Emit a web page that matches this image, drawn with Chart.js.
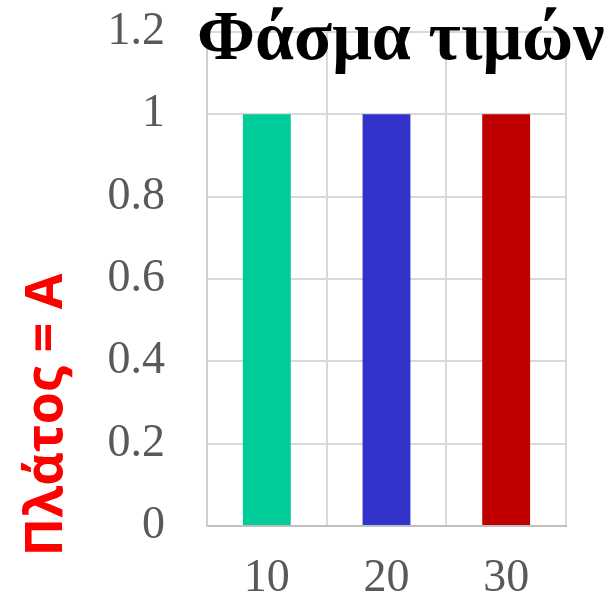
<!DOCTYPE html>
<html>
<head>
<meta charset="utf-8">
<title>Φάσμα τιμών</title>
<script src="https://cdn.jsdelivr.net/npm/chart.js@4"></script>
<style>
  html, body { margin: 0; padding: 0; background: #ffffff; }
  #wrap { width: 614px; height: 601px; }
</style>
</head>
<body>
<div id="wrap"><canvas id="chart" width="614" height="601"></canvas></div>
<script>
// Spectrum: amplitude of each frequency component
const categories = ['10', '20', '30'];
const amplitudes = [1, 1, 1];
const barColors = ['#00CC99', '#3333CC', '#C00000'];
const yTicks = [0, 0.2, 0.4, 0.6, 0.8, 1, 1.2];
const chartTitle = 'Φάσμα τιμών';
const yTitle = 'Πλάτος = A';

// Title and rotated axis caption, painted over the plot
const captions = {
  id: 'captions',
  afterDraw(chart) {
    const ctx = chart.ctx;
    ctx.save();
    ctx.fillStyle = '#000000';
    ctx.font = 'bold 70px "Liberation Serif", "Times New Roman", serif';
    ctx.textAlign = 'left';
    ctx.textBaseline = 'alphabetic';
    ctx.fillText(chartTitle, 197, 59);

    ctx.translate(62, 415);
    ctx.rotate(-Math.PI / 2);
    ctx.fillStyle = '#FF0000';
    ctx.font = 'bold 52px "Open Sans", "Liberation Sans", sans-serif';
    ctx.textAlign = 'center';
    ctx.fillText(yTitle, 0, 0);
    ctx.restore();
  }
};

const tickFont = { family: '"Liberation Serif", "Times New Roman", serif', size: 46 };

new Chart(document.getElementById('chart'), {
  type: 'bar',
  data: {
    labels: categories,
    datasets: [{
      data: amplitudes,
      backgroundColor: barColors,
      borderWidth: 0,
      categoryPercentage: 1.0,
      barPercentage: 0.4
    }]
  },
  options: {
    responsive: false,
    devicePixelRatio: 1,
    animation: false,
    layout: { padding: { top: 32, right: 48, bottom: 0, left: 0 } },
    plugins: {
      legend: { display: false },
      title: { display: false },
      tooltip: { enabled: false }
    },
    scales: {
      x: {
        offset: true,
        grid: { color: '#d9d9d9', lineWidth: 2, offset: true, drawTicks: false },
        border: { color: '#bfbfbf', width: 2 },
        ticks: { color: '#595959', padding: 25, font: tickFont },
        afterFit(scale) {
          scale.height = 75;
          scale.paddingLeft = 0;
          scale.paddingRight = 0;
        }
      },
      y: {
        min: 0,
        max: 1.2,
        afterBuildTicks(scale) { scale.ticks = yTicks.map(v => ({ value: v })); },
        grid: { color: '#d9d9d9', lineWidth: 2, drawTicks: false },
        border: { color: '#d0d0d0', width: 2 },
        ticks: {
          color: '#595959',
          padding: 42,
          font: tickFont,
          callback: (value) => String(value)
        },
        afterFit(scale) {
          scale.width = 207;
          scale.paddingTop = 0;
          scale.paddingBottom = 0;
        }
      }
    }
  },
  plugins: [captions]
});
</script>
</body>
</html>
